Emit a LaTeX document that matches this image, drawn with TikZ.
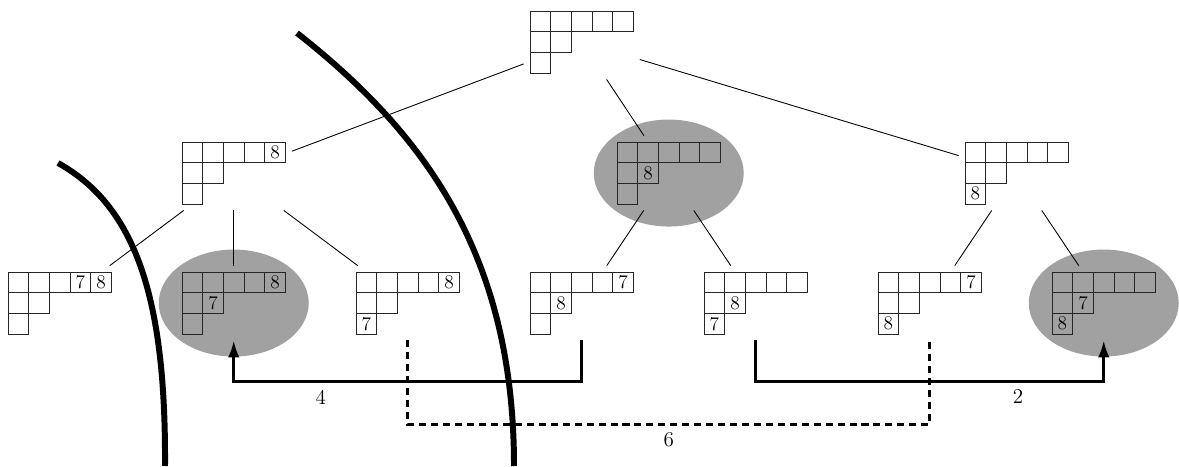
\documentclass[tikz,border=0pt]{standalone}
\usetikzlibrary{arrows.meta,backgrounds}

% side of one cell of a tableau
\newcommand{\cellsz}{0.414}

\tikzset{
  cell/.style={draw=black!85, line width=0.5pt},
  entry/.style={font=\fontsize{11}{13}\selectfont, inner sep=0pt},
  tabframe/.style={rectangle, inner sep=0pt, minimum width=2.31cm, minimum height=1.482cm},
  edge/.style={line width=0.5pt, black},
  chosen/.style={fill=black!37},
  wall/.style={line width=3.4pt, black},
  move/.style={line width=1.6pt, black},
  movetip/.style={-{Latex[length=3.4mm,width=2.3mm]}},
  movelabel/.style={font=\fontsize{12}{14}\selectfont, below=0.6pt}
}

% shape (5,2,1) with top left corner #2, entries given as row/col/value
\newcommand{\youngtab}[3]{%
  \begin{scope}[shift={#2}]
    \foreach \c in {0,...,4} \draw[cell] (\c*\cellsz,0) rectangle ++(\cellsz,-\cellsz);
    \foreach \c in {0,1} \draw[cell] (\c*\cellsz,-\cellsz) rectangle ++(\cellsz,-\cellsz);
    \draw[cell] (0,-2*\cellsz) rectangle ++(\cellsz,-\cellsz);
    \if\relax\detokenize{#3}\relax\else
      \foreach \r/\c/\v in {#3}
        \node[entry] at ({(\c-0.5)*\cellsz},{-(\r-0.5)*\cellsz}) {\v};
    \fi
    \node[tabframe] (#1) at (2.5*\cellsz,-1.5*\cellsz) {};
  \end{scope}}

\begin{document}
\begin{tikzpicture}
        \useasboundingbox (0,0) rectangle (23.58,9.32);

        % --- Root ---
        \youngtab{root}{(10.6,9.1)}{}

        % --- Second level ---
        \youngtab{L}{(3.64,6.48)}{1/5/8}
        \youngtab{M}{(12.34,6.48)}{2/2/8}
        \youngtab{R}{(19.3,6.48)}{3/1/8}

        % --- Leaves ---
        \youngtab{LL}{(0.16,3.88)}{1/4/7,1/5/8}
        \youngtab{LM}{(3.64,3.88)}{1/5/8,2/2/7}
        \youngtab{LR}{(7.12,3.88)}{1/5/8,3/1/7}
        \youngtab{ML}{(10.6,3.88)}{1/5/7,2/2/8}
        \youngtab{MR}{(14.08,3.88)}{2/2/8,3/1/7}
        \youngtab{RL}{(17.56,3.88)}{1/5/7,3/1/8}
        \youngtab{RR}{(21.04,3.88)}{2/2/7,3/1/8}

        % --- Shaded tableaux (behind the cells) ---
        \begin{scope}[on background layer]
          \foreach \t in {M,LM,RR}
            \fill[chosen] (\t) ellipse [x radius=1.5, y radius=1.07];
        \end{scope}

        % --- Tree edges ---
        \foreach \a/\b in {root/L, root/M, root/R, L/LL, L/LM, L/LR, M/ML, M/MR, R/RL, R/RR}
          \draw[edge] (\a) -- (\b);

        % --- Moves between leaves ---
        \draw[move, movetip] (ML.south) -- ++(0,-0.82) -| node[pos=0.375, movelabel] {4} (LM.south);
        \draw[move, movetip] (MR.south) -- ++(0,-0.82) -| node[pos=0.377, movelabel] {2} (RR.south);
        \draw[move, dash pattern=on 4pt off 2.8pt] (LR.south) -- ++(0,-1.68) -| node[pos=0.25, movelabel] {6} (RL.south);

        % --- Thick separating curves ---
        \draw[wall] (1.16,6.06) .. controls (2.7,5.2) and (3.32,3.4) .. (3.3,0);
        \draw[wall] (5.94,8.66) .. controls (8.4,6.72) and (10.28,4.32) .. (10.28,0);
\end{tikzpicture}
\end{document}
